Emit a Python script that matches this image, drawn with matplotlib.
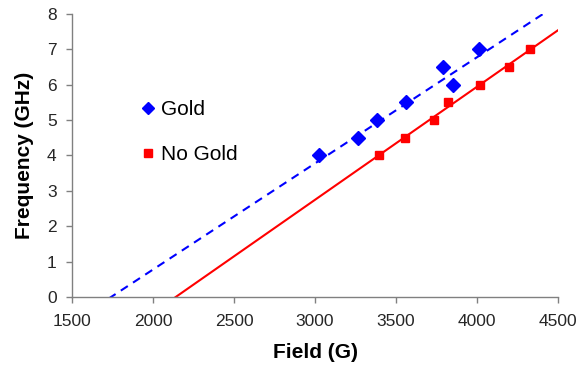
import numpy as np
import matplotlib
matplotlib.use("Agg")
import matplotlib.pyplot as plt

plt.rcParams['font.family'] = ['Liberation Sans', 'DejaVu Sans']

# Resonance measurements: field (G) vs frequency (GHz)
gold_field = [3026, 3263, 3383, 3560, 3792, 3852, 4014]
gold_freq = [4.0, 4.5, 5.0, 5.5, 6.5, 6.0, 7.0]
nogold_field = [3397, 3553, 3733, 3823, 4020, 4195, 4327]
nogold_freq = [4.0, 4.5, 5.0, 5.5, 6.0, 6.5, 7.0]

# Linear trend lines: frequency = slope * (field - field_at_zero)
gold_slope, gold_zero = 0.003, 1741
nogold_slope, nogold_zero = 0.003195, 2140

x_ticks = [1500, 2000, 2500, 3000, 3500, 4000, 4500]
y_ticks = [0, 1, 2, 3, 4, 5, 6, 7, 8]

fig = plt.figure(figsize=(5.79, 3.67), dpi=100)
ax = fig.add_axes([0.1244, 0.1907, 0.8393, 0.7712])

xx = np.array([1500, 4500])
ax.plot(xx, gold_slope * (xx - gold_zero), color='#0000ff', lw=1.5,
        ls=(0, (4, 3)), zorder=2)
ax.plot(xx, nogold_slope * (xx - nogold_zero), color='#ff0000', lw=1.5,
        zorder=2)

ax.plot(gold_field, gold_freq, ls='none', marker='D', ms=7,
        color='#0000ff', label='Gold', zorder=3)
ax.plot(nogold_field, nogold_freq, ls='none', marker='s', ms=6,
        color='#ff0000', label='No Gold', zorder=3)

ax.set_xlim(1500, 4500)
ax.set_ylim(0, 8)
ax.set_xticks(x_ticks)
ax.set_yticks(y_ticks)

for side in ('top', 'right'):
    ax.spines[side].set_visible(False)
for side in ('left', 'bottom'):
    ax.spines[side].set_color('#808080')
    ax.spines[side].set_linewidth(1.0)

ax.tick_params(axis='both', direction='out', length=4.5, width=1,
               color='#808080', labelsize=12.5, labelcolor='#262626')
ax.tick_params(axis='y', pad=6.5)
ax.tick_params(axis='x', pad=8)

ax.set_xlabel('Field (G)', fontsize=15, fontweight='bold', labelpad=10)
ax.set_ylabel('Frequency (GHz)', fontsize=15, fontweight='bold', labelpad=9)

leg = ax.legend(loc='upper left', bbox_to_anchor=(0.1435, 0.696), frameon=False,
                fontsize=15, handlelength=0.6, handletextpad=0.3,
                labelspacing=1.25, borderaxespad=0, borderpad=0,
                markerscale=0.9)

fig.savefig('out.png', dpi=100)
